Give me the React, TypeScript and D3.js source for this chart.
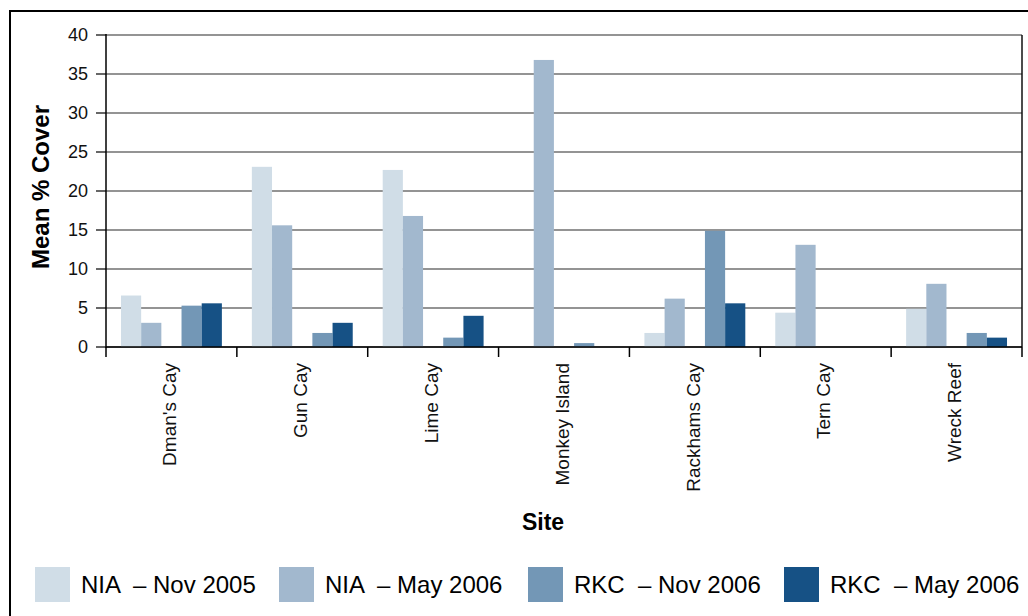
import React from "react";
import * as d3 from "d3";

const sites = ["Dman's Cay", "Gun Cay", "Lime Cay", "Monkey Island", "Rackhams Cay", "Tern Cay", "Wreck Reef"];
const seriesNames = ["NIA  – Nov 2005", "NIA  – May 2006", "RKC  – Nov 2006", "RKC  – May 2006"];
const seriesColors = ["#d0dde7", "#a2b8ce", "#7397b6", "#165185"];
const niaNov2005 = [6.6, 23.1, 22.7, 0, 1.8, 4.4, 4.9];
const niaMay2006 = [3.1, 15.6, 16.8, 36.8, 6.2, 13.1, 8.1];
const rkcNov2006 = [5.3, 1.8, 1.2, 0.5, 14.9, 0, 1.8];
const rkcMay2006 = [5.6, 3.1, 4.0, 0, 5.6, 0, 1.2];
const seriesValues = [niaNov2005, niaMay2006, rkcNov2006, rkcMay2006];
const yTicks = [0, 5, 10, 15, 20, 25, 30, 35, 40];

const W = 1028, H = 616;
const left = 106, right = 1022, top = 35, bottom = 347;

export default function App() {
  const x0 = d3.scaleBand<string>().domain(sites).range([left, right]).paddingInner(0.229).paddingOuter(0.1145);
  // five slots: the middle one is an empty gap between the NIA and RKC pairs
  const slotKeys = [seriesNames[0], seriesNames[1], "__gap", seriesNames[2], seriesNames[3]];
  const x1 = d3.scaleBand<string>().domain(slotKeys).range([0, x0.bandwidth()]);
  const y = d3.scaleLinear().domain([0, 40]).range([bottom, top]);
  const step = x0.step();
  const boundaries = d3.range(sites.length + 1).map((i) => left + i * step);
  const font = "Liberation Sans, Arial, Helvetica, sans-serif";

  const legendX = [35, 279, 528, 784];

  return (
    <svg width={W} height={H} style={{ position: "absolute", left: 0, top: 0 }} fontFamily={font}>
      <rect x={0} y={0} width={W} height={H} fill="#fff" />
      <rect x={10} y={11} width={1200} height={800} fill="none" stroke="#000" strokeWidth={2} />
      {/* gridlines */}
      {yTicks.map((t) => (
        <line key={"g" + t} x1={left} x2={right} y1={y(t)} y2={y(t)} stroke="#2a2a2a" strokeWidth={1.2} />
      ))}
      {/* bars */}
      {seriesValues.map((vals, si) =>
        vals.map((v, ci) =>
          v > 0 ? (
            <rect
              key={si + "-" + ci}
              x={(x0(sites[ci]) as number) + (x1(seriesNames[si]) as number)}
              y={y(v)}
              width={x1.bandwidth()}
              height={y(0) - y(v)}
              fill={seriesColors[si]}
            />
          ) : null
        )
      )}
      {/* right border */}
      <line x1={right} x2={right} y1={top} y2={bottom} stroke="#111" strokeWidth={1.5} />
      {/* y axis */}
      <line x1={left} x2={left} y1={top - 1} y2={bottom + 1} stroke="#000" strokeWidth={1.5} />
      {yTicks.map((t) => (
        <g key={"yt" + t}>
          <line x1={left - 10} x2={left} y1={y(t)} y2={y(t)} stroke="#000" strokeWidth={1.2} />
          <text x={88} y={y(t)} dy="0.35em" textAnchor="end" fontSize={18} fill="#111">
            {t}
          </text>
        </g>
      ))}
      {/* x axis */}
      <line x1={left} x2={right} y1={bottom} y2={bottom} stroke="#000" strokeWidth={1.5} />
      {boundaries.map((bx, i) => (
        <line key={"xt" + i} x1={bx} x2={bx} y1={bottom} y2={bottom + 10} stroke="#000" strokeWidth={1.5} />
      ))}
      {sites.map((s) => {
        const cx = (x0(s) as number) + x0.bandwidth() / 2 - 2;
        return (
          <text
            key={s}
            transform={`translate(${cx},${363}) rotate(-90)`}
            dy="0.35em"
            textAnchor="end"
            fontSize={19}
            fill="#111"
          >
            {s}
          </text>
        );
      })}
      {/* axis titles */}
      <text x={543} y={530} textAnchor="middle" fontSize={23} fontWeight="bold" fill="#000">
        Site
      </text>
      <text
        transform={`translate(49,${(top + bottom) / 2 - 4}) rotate(-90)`}
        textAnchor="middle"
        fontSize={24}
        fontWeight="bold"
        fill="#000"
      >
        Mean % Cover
      </text>
      {/* legend */}
      {seriesNames.map((n, i) => (
        <g key={n}>
          <rect x={legendX[i]} y={567} width={35} height={35} fill={seriesColors[i]} />
          <text x={legendX[i] + 46} y={593} fontSize={24} fill="#000" style={{ whiteSpace: "pre" }}>
            {n}
          </text>
        </g>
      ))}
    </svg>
  );
}
